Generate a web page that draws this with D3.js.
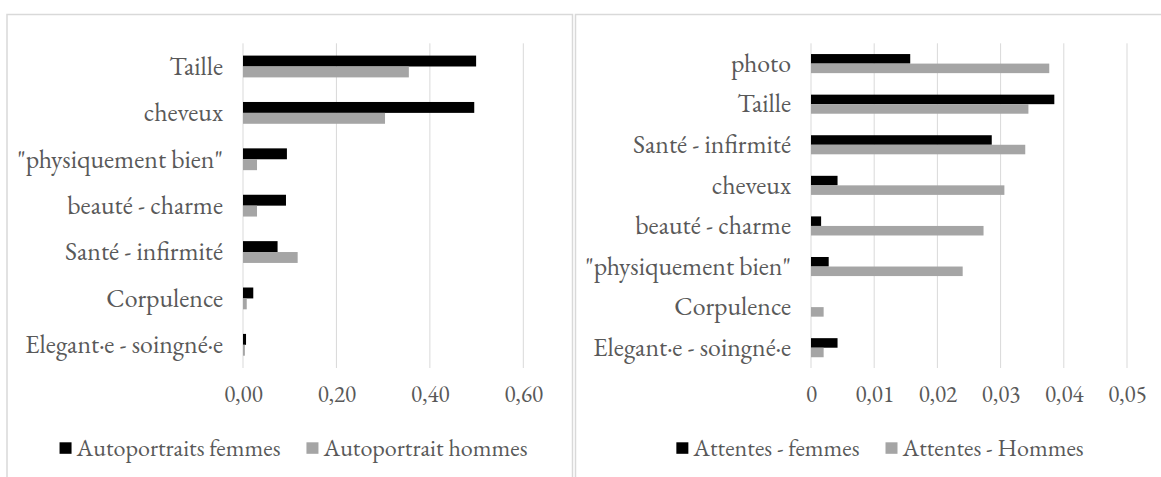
<!DOCTYPE html>
<html>
<head>
<meta charset="utf-8">
<script src="https://cdn.jsdelivr.net/npm/d3@7"></script>
<style>
html,body{margin:0;padding:0;background:#fff;}
svg{display:block;}
</style>
</head>
<body>
<svg id="chart" width="1161" height="477"></svg>
<script>
// ---- Left chart data ----
const leftCategories = ["Taille", "cheveux", "\"physiquement bien\"", "beauté - charme", "Santé - infirmité", "Corpulence", "Elegant·e - soingné·e"];
const leftFemmes = [0.499, 0.495, 0.094, 0.092, 0.074, 0.022, 0.0065];
const leftHommes = [0.355, 0.304, 0.030, 0.030, 0.117, 0.008, 0.004];
const leftSeriesNames = ["Autoportraits femmes", "Autoportrait hommes"];
const leftTicks = [0, 0.2, 0.4, 0.6];
const leftTickLabels = ["0,00", "0,20", "0,40", "0,60"];

// ---- Right chart data ----
const rightCategories = ["photo", "Taille", "Santé - infirmité", "cheveux", "beauté - charme", "\"physiquement bien\"", "Corpulence", "Elegant·e - soingné·e"];
const rightFemmes = [0.0157, 0.0385, 0.0286, 0.0042, 0.0016, 0.0028, 0, 0.0042];
const rightHommes = [0.0377, 0.0344, 0.0339, 0.0306, 0.0273, 0.0240, 0.0020, 0.0020];
const rightSeriesNames = ["Attentes - femmes", "Attentes - Hommes"];
const rightTicks = [0, 0.01, 0.02, 0.03, 0.04, 0.05];
const rightTickLabels = ["0", "0,01", "0,02", "0,03", "0,04", "0,05"];

const colors = ["#000000", "#a5a5a5"];
const svg = d3.select("#chart");

const FONT = "'EB Garamond','Liberation Serif',serif";
const ctx = document.createElement("canvas").getContext("2d");
ctx.font = "100px " + FONT;
let FS = 100 * 198 / ctx.measureText("Elegant·e - soingné·e").width;
FS = Math.max(16, Math.min(28, FS));
let LFS = 100 * 204 / ctx.measureText("Autoportraits femmes").width;
LFS = Math.max(16, Math.min(28, LFS));
let TFS = 100 * 38.5 / ctx.measureText("0,00").width;
TFS = Math.max(16, Math.min(28, TFS));

function panel(opts) {
  const g = svg.append("g").attr("font-family", FONT);
  g.append("rect").attr("x", opts.frame[0]).attr("y", 14.5)
    .attr("width", opts.frame[1] - opts.frame[0]).attr("height", 480)
    .attr("fill", "none").attr("stroke", "#d9d9d9").attr("stroke-width", 1.5);

  const x = d3.scaleLinear().domain(opts.domain).range(opts.xRange);
  const y = d3.scaleBand().domain(opts.categories).range([43.3, 368])
    .paddingInner(0.53).paddingOuter(0.265);
  const ys = d3.scaleBand().domain([0, 1]).range([0, y.bandwidth()]);

  g.append("g").selectAll("line").data(opts.ticks).join("line")
    .attr("x1", d => x(d)).attr("x2", d => x(d))
    .attr("y1", 43.3).attr("y2", 368)
    .attr("stroke", "#d9d9d9").attr("stroke-width", 1);

  const axis = d3.axisBottom(x).tickValues(opts.ticks)
    .tickFormat((d, i) => opts.tickLabels[i]).tickSize(0).tickPadding(0);
  const ax = g.append("g").attr("transform", "translate(0,395)").call(axis);
  ax.attr("font-family", FONT).attr("font-size", TFS);
  ax.select(".domain").remove();
  ax.selectAll("text").attr("fill", "#595959").attr("y", 0).attr("dy", "0.32em");

  const series = [opts.femmes, opts.hommes];
  series.forEach((vals, si) => {
    g.append("g").selectAll("rect").data(vals).join("rect")
      .attr("x", x(0))
      .attr("y", (d, i) => y(opts.categories[i]) + ys(si))
      .attr("width", d => x(d) - x(0))
      .attr("height", ys.bandwidth())
      .attr("fill", colors[si]);
  });

  g.append("g").selectAll("text").data(opts.categories).join("text")
    .attr("x", x(0) - 20)
    .attr("y", d => y(d) + y.bandwidth() / 2)
    .attr("dy", "0.32em")
    .attr("text-anchor", "end")
    .attr("font-size", FS)
    .attr("fill", "#595959")
    .text(d => d);

  const lg = g.append("g");
  const items = [];
  opts.seriesNames.forEach((name, i) => {
    const it = lg.append("g");
    it.append("rect").attr("x", 0).attr("y", -5.7).attr("width", 12).attr("height", 11.5).attr("fill", colors[i]);
    const t = it.append("text").attr("x", 17).attr("y", 0).attr("dy", "0.32em")
      .attr("font-size", LFS).attr("fill", "#595959").text(name);
    items.push({it, w: 17 + t.node().getComputedTextLength()});
  });
  const gap = 26;
  const total = d3.sum(items, d => d.w) + gap * (items.length - 1);
  let start = opts.legendCenter - total / 2;
  items.forEach(d => {
    d.it.attr("transform", `translate(${start},448)`);
    start += d.w + gap;
  });
}

panel({
  frame: [7, 572.5],
  categories: leftCategories, femmes: leftFemmes, hommes: leftHommes,
  domain: [0, 0.6], xRange: [243, 523.3],
  ticks: leftTicks, tickLabels: leftTickLabels,
  seriesNames: leftSeriesNames, legendCenter: 293.5
});
panel({
  frame: [575.5, 1200],
  categories: rightCategories, femmes: rightFemmes, hommes: rightHommes,
  domain: [0, 0.05], xRange: [811, 1127],
  ticks: rightTicks, tickLabels: rightTickLabels,
  seriesNames: rightSeriesNames, legendCenter: 880
});
</script>
</body>
</html>
